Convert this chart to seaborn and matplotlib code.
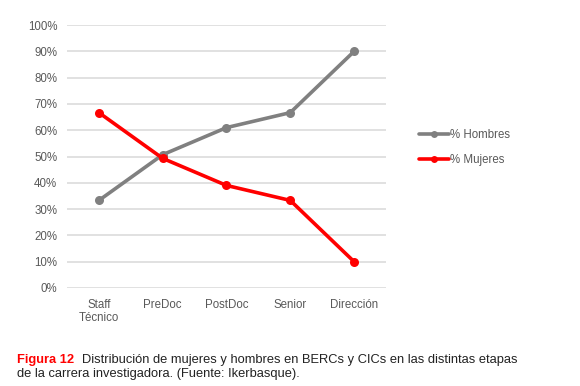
import pandas as pd
import matplotlib.pyplot as plt
import seaborn as sns

# --- data ---
etapas = ['Staff\nTécnico', 'PreDoc', 'PostDoc', 'Senior', 'Dirección']
hombres = [33.3, 50.7, 61.0, 66.7, 90.0]
mujeres = [66.7, 49.3, 39.0, 33.3, 10.0]
series = ['% Hombres', '% Mujeres']
colores = ['#808080', '#ff0000']
yticks = [0, 10, 20, 30, 40, 50, 60, 70, 80, 90, 100]

df = pd.DataFrame({
    'etapa': etapas * 2,
    'valor': hombres + mujeres,
    'serie': [series[0]] * len(etapas) + [series[1]] * len(etapas),
})

sns.set_style('white')
plt.rcParams['font.family'] = ['Liberation Sans', 'DejaVu Sans']

fig = plt.figure(figsize=(5.8, 3.86), dpi=100)
ax = fig.add_axes([0.1155, 0.254, 0.55, 0.681])

sns.lineplot(data=df, x='etapa', y='valor', hue='serie', palette=colores,
             marker='o', markersize=6.5, markeredgewidth=0, linewidth=2.6,
             ax=ax, sort=False)

ax.set_xlim(-0.5, len(etapas) - 0.5)
ax.set_ylim(0, 100)
ax.set_yticks(yticks)
ax.set_yticklabels([f'{v}%' for v in yticks])
ax.yaxis.grid(True, color='#d9d9d9', linewidth=1.1)
ax.set_axisbelow(True)
ax.set_xlabel('')
ax.set_ylabel('')
for s in ax.spines.values():
    s.set_visible(False)
ax.tick_params(axis='both', length=0, labelsize=8.3, colors='#595959')
ax.tick_params(axis='x', pad=8)
ax.tick_params(axis='y', pad=7)
for t in ax.get_xticklabels():
    t.set_linespacing(1.05)

h, l = ax.get_legend_handles_labels()
ax.get_legend().remove()
for hd in h:
    hd.set_markersize(5)
fig.legend(h, l, loc='center left', bbox_to_anchor=(0.705, 0.617),
           frameon=False, fontsize=8.3, handlelength=2.6,
           handletextpad=0.1, labelspacing=1.1, labelcolor='#595959')

# caption
fig.text(0.03, 0.067, 'Figura 12', color='#ff0000', fontsize=9.3,
         fontweight='bold', va='center')
fig.text(0.141, 0.067, 'Distribución de mujeres y hombres en BERCs y CICs en las distintas etapas',
         color='#222222', fontsize=9.3, va='center')
fig.text(0.03, 0.031, 'de la carrera investigadora. (Fuente: Ikerbasque).',
         color='#222222', fontsize=9.3, va='center')

fig.savefig('out.png', dpi=100)
